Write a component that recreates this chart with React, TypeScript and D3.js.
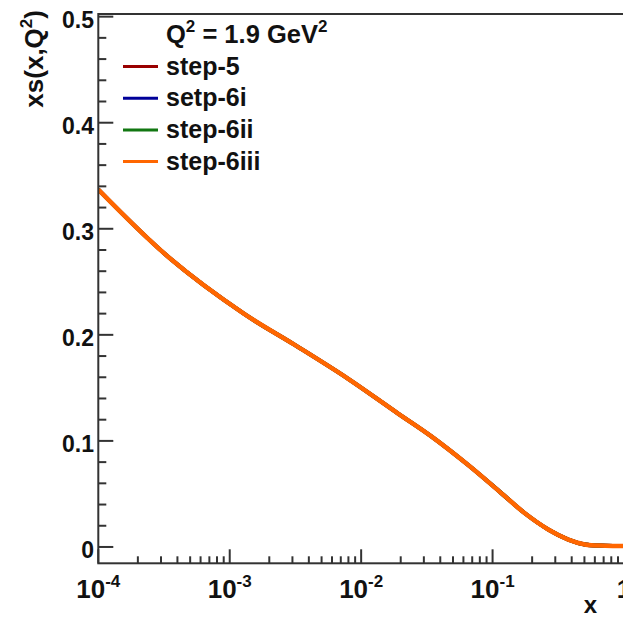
import React, { useEffect, useRef } from 'react';
import * as d3 from 'd3';

// x values of the curve points
const xValues = [1e-4, 3.52e-4, 1.28e-3, 3.08e-3, 7.87e-3, 1.9e-2, 3.4e-2, 6.49e-2, 0.116, 0.175, 0.265, 0.377, 0.503, 0.72, 1];

// xs(x,Q^2) for each fit step
const step5 = [0.337, 0.272, 0.22, 0.191, 0.159, 0.126, 0.1045, 0.0775, 0.051, 0.032, 0.0165, 0.007, 0.0024, 0.0012, 0.0008];
const step6i = [0.337, 0.272, 0.22, 0.191, 0.159, 0.126, 0.1045, 0.0775, 0.051, 0.032, 0.0165, 0.007, 0.0024, 0.0012, 0.0008];
const step6ii = [0.337, 0.272, 0.22, 0.191, 0.159, 0.126, 0.1045, 0.0775, 0.051, 0.032, 0.0165, 0.007, 0.0024, 0.0012, 0.0008];
const step6iii = [0.337, 0.272, 0.22, 0.191, 0.159, 0.126, 0.1045, 0.0775, 0.051, 0.032, 0.0165, 0.007, 0.0024, 0.0012, 0.0008];

const seriesNames = ['step-5', 'setp-6i', 'step-6ii', 'step-6iii'];
const seriesValues = [step5, step6i, step6ii, step6iii];
const seriesColors = ['#990000', '#000099', '#117711', '#ff6600'];

const yTicks = [0, 0.1, 0.2, 0.3, 0.4, 0.5];
const xTickExponents = [-4, -3, -2, -1];

const FONT = '"Liberation Sans", Arial, Helvetica, sans-serif';

function App() {
    const chartRef = useRef<SVGSVGElement>(null);

    useEffect(() => {
        drawChart();
    }, []);

    const drawChart = () => {
        const svg = d3.select(chartRef.current);
        svg.selectAll('*').remove();

        const left = 98.3, right = 624, top = 14, bottom = 563.3;

        const x = d3.scaleLog().domain([1e-4, 1]).range([left, right]);
        const y = d3.scaleLinear().domain([-0.0154, 0.5025]).range([bottom, top]);

        svg.append('clipPath').attr('id', 'frame')
            .append('rect')
            .attr('x', left).attr('y', top)
            .attr('width', right - left).attr('height', bottom - top);

        // curves
        const line = d3.line<number>()
            .x((d, i) => x(xValues[i]))
            .y(d => y(d))
            .curve(d3.curveCatmullRom.alpha(0.5));

        seriesValues.forEach((vals, k) => {
            svg.append('path')
                .attr('d', line(vals))
                .attr('fill', 'none')
                .attr('stroke', seriesColors[k])
                .attr('stroke-width', k === 3 ? 4.5 : 4)
                .attr('clip-path', 'url(#frame)');
        });

        // frame
        svg.append('rect')
            .attr('x', left).attr('y', top)
            .attr('width', right - left).attr('height', bottom - top)
            .attr('fill', 'none')
            .attr('stroke', '#333')
            .attr('stroke-width', 2);

        // y ticks
        const yMinor = d3.range(0, 0.5001, 0.02);
        svg.append('g').selectAll('line')
            .data(yMinor)
            .enter().append('line')
            .attr('x1', left)
            .attr('x2', (d: number) => left + (Math.abs(d * 10 - Math.round(d * 10)) < 1e-6 ? 15 : 8))
            .attr('y1', (d: number) => y(d))
            .attr('y2', (d: number) => y(d))
            .attr('stroke', '#333')
            .attr('stroke-width', 2);

        svg.append('g').selectAll('text')
            .data(yTicks)
            .enter().append('text')
            .attr('x', 94)
            .attr('y', (d: number) => y(d) + 11)
            .attr('text-anchor', 'end')
            .attr('font-family', FONT)
            .attr('font-weight', 'bold')
            .attr('font-size', 23)
            .attr('fill', '#111')
            .text((d: number) => d3.format('~g')(d));

        // x ticks
        const xMinor: number[] = [];
        for (let e = -4; e < 0; e++) {
            for (let m = 1; m <= 9; m++) xMinor.push(m * Math.pow(10, e));
        }
        xMinor.push(1);
        svg.append('g').selectAll('line')
            .data(xMinor)
            .enter().append('line')
            .attr('x1', (d: number) => x(d))
            .attr('x2', (d: number) => x(d))
            .attr('y1', bottom)
            .attr('y2', (d: number) => {
                const l = Math.log10(d);
                return bottom - (Math.abs(l - Math.round(l)) < 1e-6 ? 14 : 7);
            })
            .attr('stroke', '#333')
            .attr('stroke-width', 2);

        const xl = svg.append('g').selectAll('text')
            .data(xTickExponents)
            .enter().append('text')
            .attr('x', (d: number) => x(Math.pow(10, d)))
            .attr('y', 598)
            .attr('text-anchor', 'middle')
            .attr('font-family', FONT)
            .attr('font-weight', 'bold')
            .attr('fill', '#111');
        xl.append('tspan').attr('font-size', 26).text('10');
        xl.append('tspan').attr('font-size', 17).attr('dy', -11).text((d: number) => '-' + Math.abs(d));

        svg.append('text')
            .attr('x', x(1))
            .attr('y', 598)
            .attr('text-anchor', 'middle')
            .attr('font-family', FONT)
            .attr('font-weight', 'bold')
            .attr('font-size', 26)
            .attr('fill', '#111')
            .text('1');

        // axis titles
        svg.append('text')
            .attr('x', 597)
            .attr('y', 613)
            .attr('text-anchor', 'end')
            .attr('font-family', FONT)
            .attr('font-weight', 'bold')
            .attr('font-size', 24)
            .attr('fill', '#111')
            .text('x');

        const yt = svg.append('text')
            .attr('transform', 'translate(43,10) rotate(-90)')
            .attr('text-anchor', 'end')
            .attr('font-family', FONT)
            .attr('font-weight', 'bold')
            .attr('font-size', 26)
            .attr('fill', '#111');
        yt.append('tspan').text('xs(x,Q');
        yt.append('tspan').attr('font-size', 17).attr('dy', -11).text('2');
        yt.append('tspan').attr('dy', 11).text(')');

        // legend
        const q = svg.append('text')
            .attr('x', 166)
            .attr('y', 43)
            .attr('font-family', FONT)
            .attr('font-weight', 'bold')
            .attr('font-size', 25.5)
            .attr('fill', '#111');
        q.append('tspan').text('Q');
        q.append('tspan').attr('font-size', 17).attr('dy', -11).text('2');
        q.append('tspan').attr('dy', 11).text(' = 1.9 GeV');
        q.append('tspan').attr('font-size', 17).attr('dy', -11).text('2');

        const leg = svg.append('g').selectAll('g')
            .data(seriesNames)
            .enter().append('g')
            .attr('transform', (d: string, i: number) => `translate(0,${66.5 + i * 31.7})`);
        leg.append('line')
            .attr('x1', 123).attr('x2', 158)
            .attr('y1', 0).attr('y2', 0)
            .attr('stroke', (d: string, i: number) => seriesColors[i])
            .attr('stroke-width', 3);
        leg.append('text')
            .attr('x', 166)
            .attr('y', 8)
            .attr('font-family', FONT)
            .attr('font-weight', 'bold')
            .attr('font-size', 25)
            .attr('fill', '#111')
            .text((d: string) => d);
    };

    return (
        <div style={{ position: 'fixed', left: 0, top: 0 }}>
            <svg ref={chartRef} width={623} height={618} style={{ display: 'block', background: '#fff' }}></svg>
        </div>
    );
}

export default App;
